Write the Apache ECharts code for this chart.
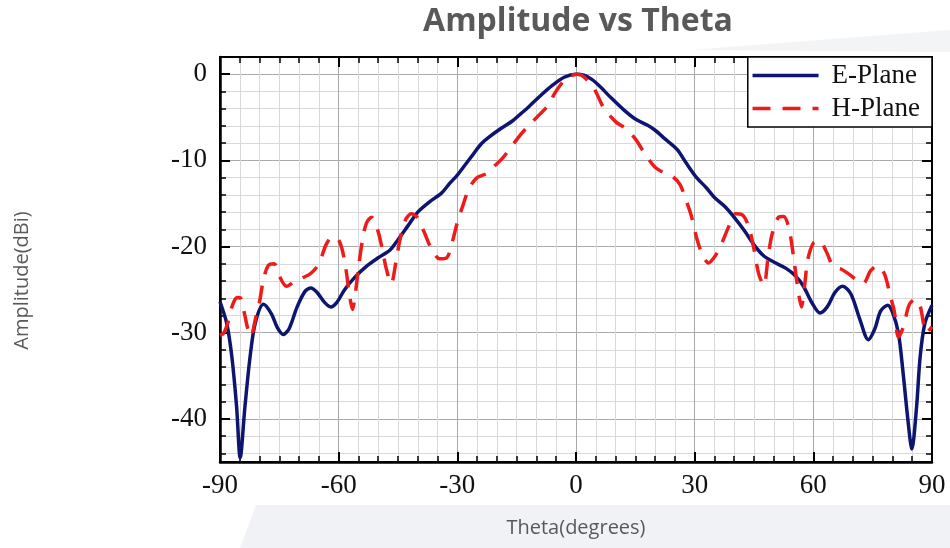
<!DOCTYPE html>
<html>
<head>
<meta charset="utf-8">
<title>Amplitude vs Theta</title>
<script src="https://cdn.jsdelivr.net/npm/echarts@6/dist/echarts.min.js"></script>
<style>
  html, body { margin: 0; padding: 0; background: #fff; }
  #chart { width: 950px; height: 548px; }
</style>
</head>
<body>
<div id="chart"></div>
<script>
// E-plane trace (theta in degrees, amplitude in dBi)
const thetaE = [-90, -88.3, -87, -85.8, -84.9, -83.7, -82.4, -81.1, -79, -77, -75.5, -74, -72.5, -70.5, -68.5, -67, -65.5, -63.5, -62, -60.5,
  -58.5, -56, -53, -50, -47, -45, -42.5, -40, -37, -34, -32, -30, -28, -26, -24, -22, -19, -16, -14, -12,
  -9, -6, -3, 0, 2, 4, 6, 9, 12, 15, 18, 20, 22.5, 25.5, 28, 30.5, 33, 35, 37.5, 40,
  42.5, 45, 47.5, 50, 53, 55.5, 57.5, 59.5, 61.7, 63.5, 65.5, 67.4, 69.5, 71.8, 73.9, 75.5, 77, 78.8, 80, 81.5,
  82.7, 84, 84.9, 86.1, 87, 88.2, 90]
const ampE = [-26.4, -28.9, -32.8, -38.6, -44.5, -38.6, -32.8, -28.9, -26.7, -27.8, -29.4, -30.2, -29.5, -27, -25.2, -24.8, -25.3, -26.5, -27, -26.5,
  -25, -23.6, -22.3, -21.3, -20.4, -19.2, -17.6, -16, -14.8, -13.8, -12.7, -11.7, -10.5, -9.3, -8.1, -7.3, -6.3, -5.4, -4.6, -3.8,
  -2.5, -1.3, -0.35, 0, -0.1, -0.6, -1.4, -2.8, -4.1, -5.2, -5.9, -6.5, -7.5, -8.7, -10.4, -12, -13.2, -14.3, -15.3, -16.6,
  -18.1, -19.8, -21.1, -21.8, -22.5, -23.4, -24.6, -26.4, -27.7, -27, -25.3, -24.6, -25.5, -28.5, -30.8, -29.6, -27.5, -26.8, -27.6, -30,
  -34.7, -40.5, -43.5, -38.6, -32.8, -28.9, -26.8]

// H-plane trace
const thetaH = [-90, -89, -88, -87, -86, -85, -84, -83, -82.2, -81, -80, -79, -77.8, -76.3, -75, -73.2, -71, -69, -67, -65,
  -63.2, -61.6, -60.2, -59.2, -58.2, -57.3, -56.5, -55.8, -55, -54, -53, -51.7, -50.2, -49, -48, -46.7, -45.6, -44.5, -43, -41.6,
  -40.2, -38.5, -36.5, -34.5, -32.7, -31.3, -30, -28.5, -27, -25, -22.5, -20.5, -18.5, -16, -14, -12, -9.5, -7, -5.5, -3.5,
  -1.5, 0.5, 2, 4.5, 7, 10, 12.5, 15, 17.5, 20, 22.5, 24.5, 26.3, 27.8, 29.2, 30.5, 32, 33.5, 35, 36.5,
  38.5, 40.3, 42, 43.6, 45, 46.2, 47.5, 48.5, 49.5, 51.2, 52.5, 53.8, 55, 56, 57, 57.8, 58.6, 60, 61.5, 63.3,
  65, 67, 69, 71, 72.6, 74.5, 76.3, 78, 79.4, 80.5, 81.5, 82.7, 84.2, 85.7, 87, 88.6, 90]
const ampH = [-30.3, -30, -28.8, -27, -26, -25.9, -27.4, -29.5, -30.4, -28.3, -26.4, -23.8, -22.2, -22, -23.4, -24.6, -24, -23.6, -23.1, -22,
  -19.8, -18.9, -19.1, -20.2, -22.5, -25.5, -27.3, -25.5, -22.5, -19.3, -17.3, -16.6, -18, -20.2, -22.5, -24.3, -22, -19.2, -16.8, -16.2,
  -16.6, -18.2, -20.3, -21.4, -21.3, -19.5, -17.2, -15.1, -13.2, -12, -11.5, -10.6, -9.7, -8.2, -7, -6, -4.8, -3.6, -2.3, -1,
  -0.2, 0, -0.3, -1.6, -3.9, -5.5, -6.3, -7.5, -9.3, -10.8, -11.5, -11.9, -12.8, -14.6, -16.5, -19, -21, -21.9, -21.2, -20,
  -17.8, -16.2, -16.3, -17.6, -20.3, -23.2, -24.5, -21.5, -18.7, -16.6, -16.5, -17.8, -21.2, -24.6, -27, -24.5, -21.5, -19.6, -19.3, -20.6,
  -22.3, -22.6, -23.2, -23.9, -24.3, -22.8, -22.2, -23.2, -25.6, -27.6, -30.5, -29.4, -26.8, -26.1, -26.9, -30, -29.3]

const seriesNames = ['E-Plane', 'H-Plane']

const chart = echarts.init(document.getElementById('chart'))
let option

const tickFont = {
  fontFamily: 'Liberation Serif',
  fontSize: 27,
  color: '#111',
}

// frame axes on top / right: ticks only
const frameAxis = {
  axisLine: { show: true, onZero: false, lineStyle: { color: '#000', width: 2 } },
  axisTick: { show: true, inside: true, length: 10, lineStyle: { color: '#000', width: 2 } },
  axisLabel: { show: false },
  splitLine: { show: false },
  minorSplitLine: { show: false },
}

option = {
  animation: false,
  backgroundColor: '#fff',
  graphic: [
    {
      type: 'polygon',
      z: -10,
      shape: { points: [[256, 505], [950, 505], [950, 548], [240, 548]] },
      style: { fill: '#f1f2f5' },
    },
    {
      type: 'polygon',
      z: -10,
      shape: { points: [[690, 50], [820, 40], [950, 30], [950, 52]] },
      style: { fill: '#f3f4f6' },
    },
  ],
  title: {
    text: 'Amplitude vs Theta',
    left: 573,
    top: 1,
    textAlign: 'center',
    textStyle: {
      fontFamily: 'Open Sans',
      fontWeight: 'bold',
      fontSize: 32,
      color: '#595959',
    },
  },
  legend: {
    data: seriesNames,
    orient: 'vertical',
    right: 18,
    top: 57,
    itemWidth: 66,
    itemHeight: 14,
    itemGap: 6,
    padding: [5, 12, 5, 3],
    backgroundColor: '#fff',
    borderColor: '#000',
    borderWidth: 1.5,
    borderRadius: 0,
    itemStyle: { color: 'transparent', borderWidth: 0, opacity: 0 },
    lineStyle: { width: 3.5 },
    textStyle: {
      fontFamily: 'Liberation Serif',
      fontSize: 27,
      color: '#111',
      padding: [0, 0, 0, 8],
    },
  },
  grid: {
    left: 220,
    right: 18,
    top: 57,
    bottom: 86,
    show: true,
    borderColor: '#000',
    borderWidth: 2,
    backgroundColor: '#fff',
  },
  xAxis: [
    {
      type: 'value',
      min: -90,
      max: 90,
      interval: 30,
      name: 'Theta(degrees)',
      nameLocation: 'middle',
      nameGap: 56,
      nameTextStyle: { fontFamily: 'Open Sans', fontSize: 20, color: '#595959' },
      axisLine: { show: true, onZero: false, lineStyle: { color: '#000', width: 2.5 } },
      axisTick: { show: true, inside: true, length: 10, lineStyle: { color: '#000', width: 2 } },
      minorTick: { show: true, splitNumber: 6, length: 6, lineStyle: { color: '#000', width: 1.5 } },
      axisLabel: Object.assign({ margin: 10 }, tickFont),
      splitLine: { show: true, lineStyle: { color: '#a9a9a9', width: 1 } },
      minorSplitLine: { show: true, lineStyle: { color: '#d9d9d9', width: 1 } },
    },
    Object.assign({
      type: 'value',
      min: -90,
      max: 90,
      interval: 30,
      position: 'top',
      minorTick: { show: true, splitNumber: 6, length: 6, lineStyle: { color: '#000', width: 1.5 } },
    }, frameAxis),
  ],
  yAxis: [
    {
      type: 'value',
      min: -45,
      max: 2,
      name: 'Amplitude(dBi)',
      nameLocation: 'middle',
      nameRotate: 90,
      nameGap: 188,
      nameTextStyle: { fontFamily: 'Open Sans', fontSize: 20, color: '#595959', padding: [0, 42, 0, 0] },
      axisLine: { show: true, onZero: false, lineStyle: { color: '#000', width: 2.5 } },
      axisTick: { show: true, inside: true, length: 10, lineStyle: { color: '#000', width: 2 } },
      minorTick: { show: true, splitNumber: 5, length: 6, lineStyle: { color: '#000', width: 1.5 } },
      axisLabel: Object.assign({
        margin: 13,
        formatter: (v) => (v % 10 === 0 ? String(v) : ''),
      }, tickFont),
      splitLine: { show: true, lineStyle: { color: '#a9a9a9', width: 1 } },
      minorSplitLine: { show: true, lineStyle: { color: '#d9d9d9', width: 1 } },
    },
    Object.assign({
      type: 'value',
      min: -45,
      max: 2,
      position: 'right',
      minorTick: { show: true, splitNumber: 5, length: 6, lineStyle: { color: '#000', width: 1.5 } },
    }, frameAxis),
  ],
  series: [
    {
      name: seriesNames[0],
      type: 'line',
      symbol: 'none',
      smooth: 0.3,
      z: 3,
      data: thetaE.map((t, i) => [t, ampE[i]]),
      lineStyle: { color: '#0d1570', width: 3.5 },
      itemStyle: { color: '#0d1570' },
    },
    {
      name: seriesNames[1],
      type: 'line',
      symbol: 'none',
      smooth: 0.3,
      z: 4,
      data: thetaH.map((t, i) => [t, ampH[i]]),
      lineStyle: { color: '#ee1b1b', width: 3.5, type: [18, 12] },
      itemStyle: { color: '#ee1b1b' },
    },
  ],
}

option && chart.setOption(option)
</script>
</body>
</html>
